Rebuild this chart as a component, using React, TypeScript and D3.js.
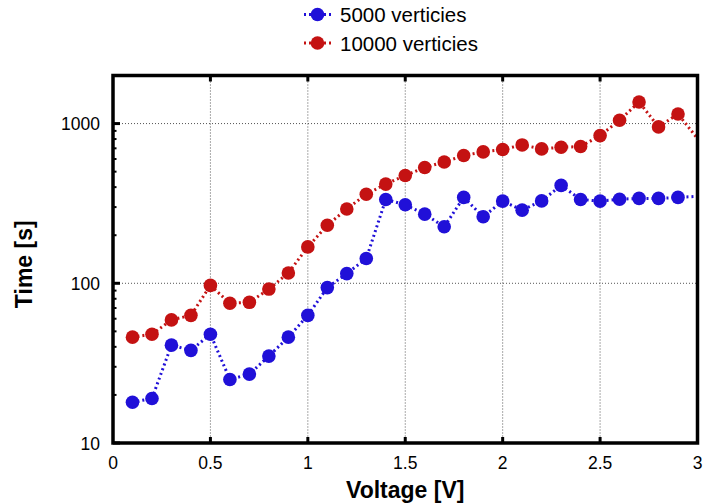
import React from "react";
import * as d3 from "d3";

const voltages = [0.1,0.2,0.3,0.4,0.5,0.6,0.7,0.8,0.9,1.0,1.1,1.2,1.3,1.4,1.5,1.6,1.7,1.8,1.9,2.0,2.1,2.2,2.3,2.4,2.5,2.6,2.7,2.8,2.9,3.1];
const time5000 = [18,19,41,38,48,25,27,35,46,63,94,115,143,335,310,271,226,345,261,327,287,328,410,335,327,336,340,340,345,355];
const time10000 = [46,48,59,63,97,75,76,92,116,169,231,292,361,418,473,531,575,631,665,688,735,694,711,718,841,1049,1365,953,1148,566];
const seriesNames = ["5000 verticies", "10000 verticies"];
const seriesColors = ["#2010d8", "#c41212"];
const xTicks = [0, 0.5, 1, 1.5, 2, 2.5, 3];
const yTicks = [10, 100, 1000];

const W = 704, H = 503;
const m = { left: 113, right: 6.5, top: 75.5, bottom: 60 };

export default function App() {
  const x = d3.scaleLinear().domain([0, 3]).range([m.left, W - m.right]);
  const y = d3.scaleLog().domain([10, 2000]).range([H - m.bottom, m.top]);
  const series = [time5000, time10000];
  const line = d3.line<number>().x((_, i) => x(voltages[i])).y((d) => y(d));
  const minor: number[] = [];
  for (let p = 1; p <= 3; p++) for (let k = 2; k <= 9; k++) {
    const v = k * Math.pow(10, p);
    if (v <= 2000) minor.push(v);
  }
  const font = "Liberation Sans, Arial, sans-serif";
  const x0 = x(0), x1 = x(3), y0 = y(10), y1 = y(2000);
  return (
    <svg width={W} height={H} style={{ position: "absolute", left: 0, top: 0 }} fontFamily={font}>
      <defs>
        <clipPath id="plot">
          <rect x={x0} y={y1} width={x1 - x0} height={y0 - y1} />
        </clipPath>
      </defs>
      <rect width={W} height={H} fill="#fff" />
      {/* grid */}
      {xTicks.slice(1, -1).map((t) => (
        <line key={"gx" + t} x1={x(t)} x2={x(t)} y1={y1} y2={y0} stroke="#555" strokeWidth={1} strokeDasharray="1,2" />
      ))}
      {yTicks.slice(1).map((t) => (
        <line key={"gy" + t} x1={x0} x2={x1} y1={y(t)} y2={y(t)} stroke="#555" strokeWidth={1} strokeDasharray="1,2" />
      ))}
      {/* series */}
      <g clipPath="url(#plot)">
        {series.map((s, si) => (
          <g key={si}>
            <path d={line(s) || ""} fill="none" stroke={seriesColors[si]} strokeWidth={3} strokeDasharray="2,3" />
            {s.map((v, i) => (
              <circle key={i} cx={x(voltages[i])} cy={y(v)} r={6.8} fill={seriesColors[si]} />
            ))}
          </g>
        ))}
      </g>
      {/* ticks */}
      {xTicks.slice(1, -1).map((t) => (
        <g key={"tx" + t}>
          <line x1={x(t)} x2={x(t)} y1={y0} y2={y0 - 6} stroke="#000" strokeWidth={3} />
          <line x1={x(t)} x2={x(t)} y1={y1} y2={y1 + 6} stroke="#000" strokeWidth={3} />
        </g>
      ))}
      {yTicks.map((t) => (
        <line key={"ty" + t} x1={x0} x2={x0 + 7} y1={y(t)} y2={y(t)} stroke="#000" strokeWidth={3} />
      ))}
      {minor.map((t) => (
        <line key={"my" + t} x1={x0} x2={x0 + 3.5} y1={y(t)} y2={y(t)} stroke="#000" strokeWidth={2} />
      ))}
      {/* frame */}
      <rect x={x0} y={y1} width={x1 - x0} height={y0 - y1} fill="none" stroke="#000" strokeWidth={3.5} />
      {/* tick labels */}
      {xTicks.map((t) => (
        <text key={"lx" + t} x={x(t)} y={y0 + 26} textAnchor="middle" fontSize={17.5}>{String(t)}</text>
      ))}
      {yTicks.map((t) => (
        <text key={"ly" + t} x={x0 - 13} y={y(t) + 6.5} textAnchor="end" fontSize={17.5}>{String(t)}</text>
      ))}
      {/* axis titles */}
      <text x={(x0 + x1) / 2} y={H - 5.5} textAnchor="middle" fontSize={23} fontWeight="bold">Voltage [V]</text>
      <text transform={`translate(32,${(y0 + y1) / 2 + 5}) rotate(-90)`} textAnchor="middle" fontSize={23} fontWeight="bold">Time [s]</text>
      {/* legend */}
      {seriesNames.map((n, i) => (
        <g key={n} transform={`translate(0,${14.5 + i * 28.5})`}>
          <line x1={304} x2={331} y1={0} y2={0} stroke={seriesColors[i]} strokeWidth={3} strokeDasharray="2,3" />
          <circle cx={317.5} cy={0} r={6.8} fill={seriesColors[i]} />
          <text x={340} y={7.5} fontSize={20.5}>{n}</text>
        </g>
      ))}
    </svg>
  );
}
